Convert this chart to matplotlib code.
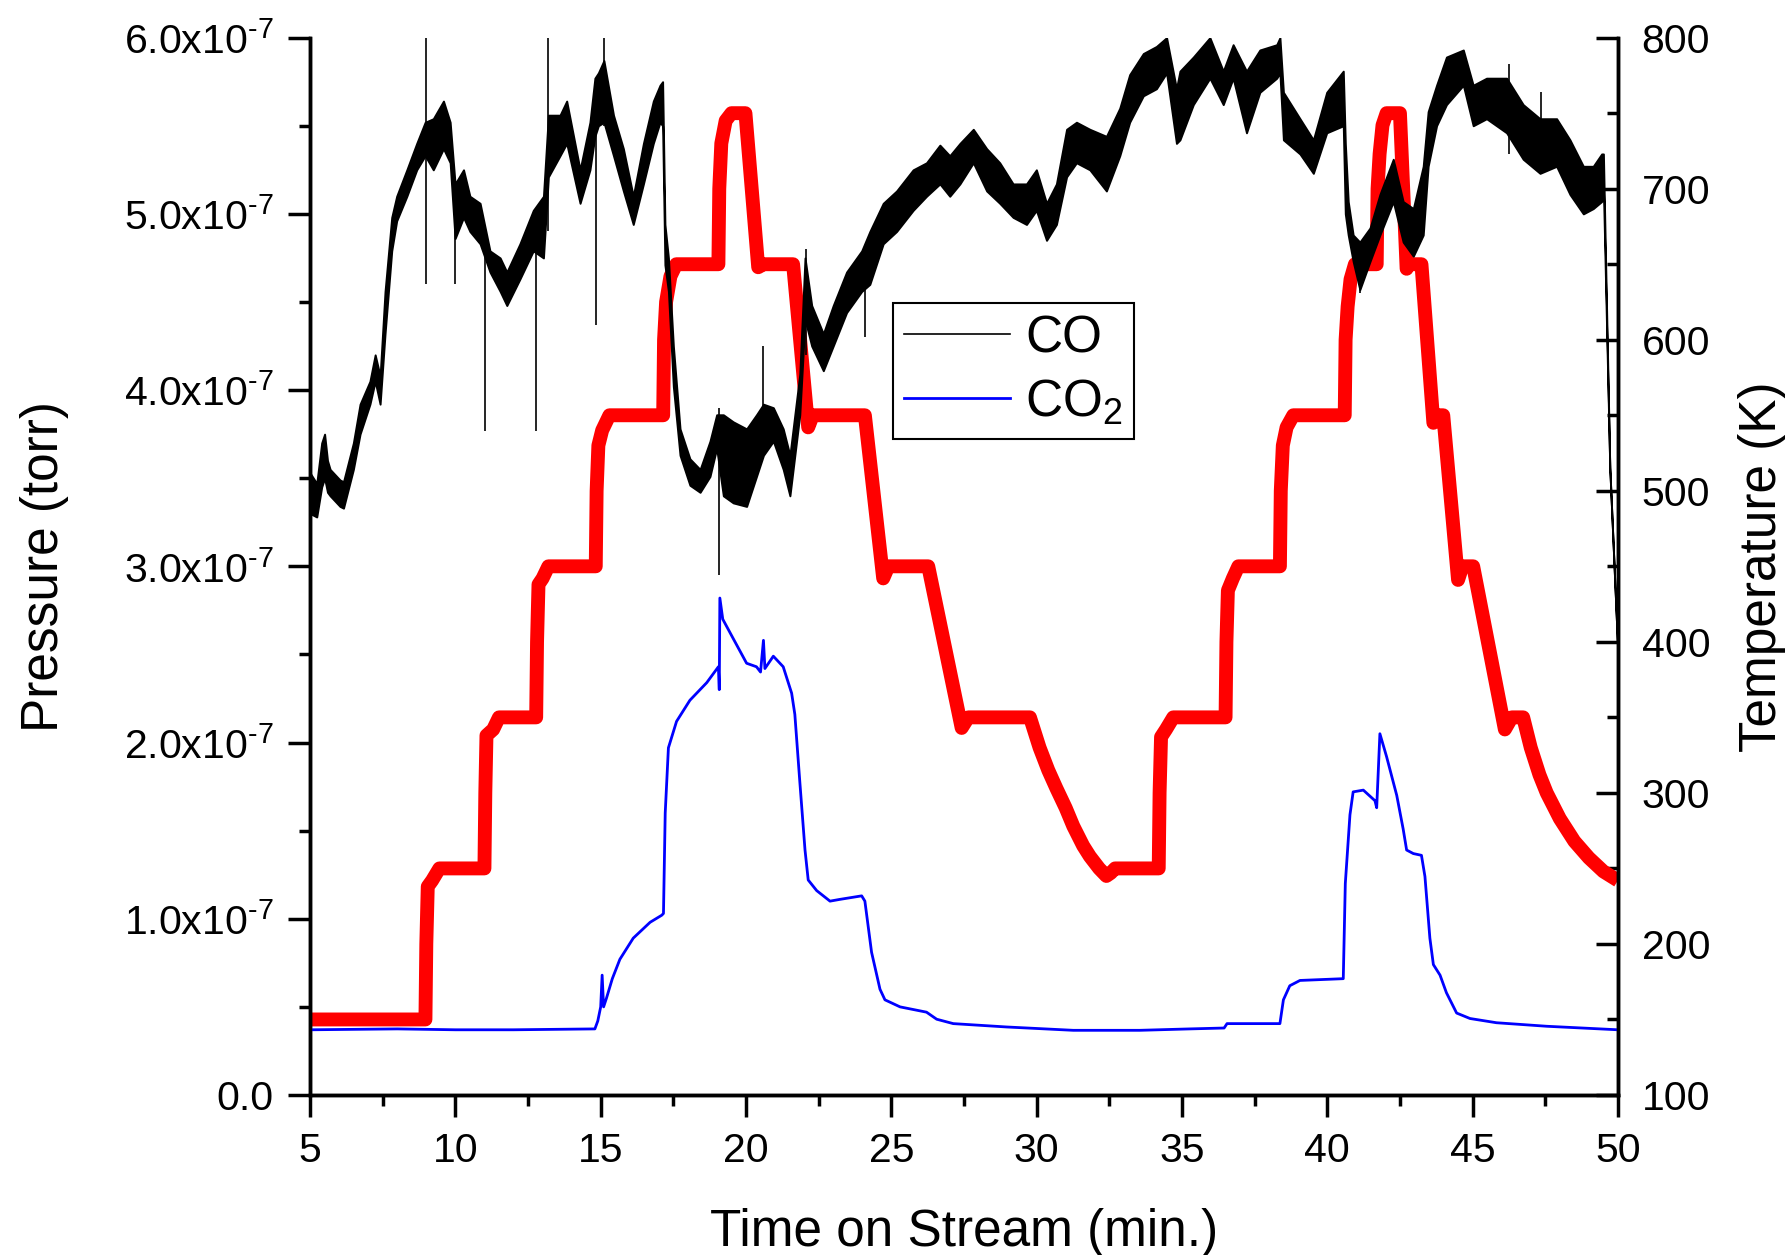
import numpy as np
import matplotlib
matplotlib.use('Agg')
import matplotlib.pyplot as plt
from matplotlib.ticker import MultipleLocator

plt.rcParams['font.family'] = ['Liberation Sans', 'DejaVu Sans']
plt.rcParams['mathtext.fontset'] = 'custom'
plt.rcParams['mathtext.rm'] = 'Liberation Sans'
plt.rcParams['mathtext.it'] = 'Liberation Sans:italic'

# --- データ（圧力は 1e-7 torr 単位で読み取り）---
# CO: ノイズ帯の下限/上限
t_co = [5.0, 5.23, 5.4, 5.5, 5.6, 5.69, 6.03, 6.15, 6.49, 6.72, 7.06, 7.24, 7.41, 7.58, 7.81,
        7.98, 8.33, 8.67, 8.96, 9.24, 9.59, 9.82, 9.99, 10.28, 10.5, 10.85, 11.19, 11.54, 11.77,
        12.22, 12.68, 13.03, 13.2, 13.6, 13.83, 14.29, 14.63, 14.8, 14.92, 15.11, 15.44, 15.78,
        16.12, 16.47, 16.81, 17.04, 17.13, 17.21, 17.33, 17.5, 17.73, 18.07, 18.42, 18.76, 18.99,
        19.22, 19.56, 20.02, 20.36, 20.6, 20.94, 21.28, 21.51, 21.68, 21.85, 22.03, 22.26, 22.66,
        23.0, 23.46, 23.98, 24.26, 24.72, 25.18, 25.75, 26.21, 26.67, 27.01, 27.36, 27.82, 28.28,
        28.73, 29.19, 29.65, 29.99, 30.34, 30.68, 31.03, 31.37, 31.83, 32.4, 32.86, 33.2, 33.67,
        34.12, 34.47, 34.81, 34.93, 35.39, 35.96, 36.42, 36.76, 37.22, 37.68, 38.26, 38.37, 38.49,
        39.06, 39.52, 39.98, 40.55, 40.62, 40.72, 40.89, 41.12, 41.47, 41.81, 42.27, 42.61, 42.96,
        43.3, 43.47, 43.76, 44.1, 44.68, 45.02, 45.48, 46.17, 46.74, 47.32, 47.89, 48.35, 48.81,
        49.15, 49.44, 49.5, 49.72, 50.0]
co_lo = [3.30, 3.28, 3.45, 3.50, 3.42, 3.40, 3.34, 3.33, 3.55, 3.75, 3.92, 4.05, 3.92, 4.32, 4.79,
         4.96, 5.10, 5.25, 5.33, 5.25, 5.37, 5.29, 4.86, 4.98, 4.90, 4.83, 4.67, 4.56, 4.48,
         4.63, 4.79, 4.75, 5.21, 5.33, 5.40, 5.06, 5.25, 5.44, 5.50, 5.52, 5.33, 5.13,
         4.94, 5.17, 5.40, 5.52, 5.50, 4.71, 4.56, 4.02, 3.63, 3.46, 3.42, 3.51, 3.67,
         3.40, 3.36, 3.34, 3.51, 3.63, 3.71, 3.55, 3.40, 3.63, 3.86, 4.40, 4.25, 4.11,
         4.25, 4.44, 4.56, 4.60, 4.83, 4.90, 5.02, 5.10, 5.17, 5.10, 5.17, 5.29, 5.13,
         5.06, 4.98, 4.94, 5.02, 4.85, 4.94, 5.21, 5.29, 5.25, 5.13, 5.33, 5.52, 5.67,
         5.71, 5.80, 5.40, 5.42, 5.62, 5.77, 5.62, 5.77, 5.46, 5.69, 5.77, 5.80, 5.42,
         5.34, 5.23, 5.46, 5.50, 5.00, 4.88, 4.73, 4.57, 4.73, 4.88, 5.07, 4.84, 4.76,
         4.88, 5.27, 5.50, 5.62, 5.73, 5.50, 5.54, 5.46, 5.31, 5.23, 5.27, 5.11, 5.00,
         5.03, 5.07, 5.15, 3.56, 2.50]
co_hi = [3.53, 3.47, 3.70, 3.75, 3.60, 3.55, 3.49, 3.48, 3.70, 3.92, 4.05, 4.20, 4.08, 4.56, 4.98,
         5.10, 5.25, 5.40, 5.52, 5.54, 5.64, 5.52, 5.17, 5.25, 5.10, 5.06, 4.79, 4.75, 4.67,
         4.83, 5.02, 5.10, 5.56, 5.56, 5.64, 5.25, 5.52, 5.77, 5.80, 5.87, 5.56, 5.37,
         5.10, 5.40, 5.64, 5.73, 5.75, 4.94, 4.75, 4.25, 3.78, 3.61, 3.55, 3.71, 3.86,
         3.86, 3.82, 3.78, 3.86, 3.92, 3.90, 3.78, 3.63, 3.86, 4.09, 4.75, 4.48, 4.32,
         4.48, 4.67, 4.79, 4.90, 5.06, 5.13, 5.25, 5.29, 5.39, 5.33, 5.40, 5.48, 5.37,
         5.29, 5.17, 5.17, 5.25, 5.06, 5.17, 5.48, 5.52, 5.48, 5.44, 5.60, 5.79, 5.91,
         5.95, 6.00, 5.71, 5.81, 5.89, 6.00, 5.81, 5.96, 5.81, 5.93, 5.96, 6.00, 5.69,
         5.54, 5.42, 5.69, 5.81, 5.40, 5.07, 4.88, 4.84, 4.92, 5.11, 5.31, 5.07, 5.03,
         5.27, 5.58, 5.73, 5.89, 5.93, 5.73, 5.77, 5.77, 5.62, 5.54, 5.54, 5.42, 5.27,
         5.27, 5.34, 5.34, 3.56, 2.50]

# CO のスパイク（縦の細線）
spike_t = [9.0, 10.0, 11.02, 12.79, 13.2, 14.83, 15.12, 19.08, 20.6, 22.08, 24.09, 41.12, 46.25, 47.35]
spike_lo = [4.6, 4.6, 3.77, 3.77, 4.9, 4.37, 5.5, 2.95, 3.7, 4.2, 4.3, 4.55, 5.34, 5.3]
spike_hi = [6.0, 5.2, 4.9, 4.9, 6.0, 5.6, 6.0, 3.9, 4.25, 4.8, 4.7, 4.8, 5.85, 5.69]

# CO2
t_co2 = [5.0, 8.0, 10.0, 12.0, 14.8, 14.9, 15.0, 15.05, 15.1, 15.2, 15.4, 15.66, 16.12, 16.7, 17.1,
         17.16, 17.22, 17.33, 17.61, 18.07, 18.65, 19.05, 19.08, 19.1, 19.2, 19.56, 20.02, 20.36,
         20.5, 20.6, 20.65, 20.94, 21.28, 21.57, 21.68, 21.85, 22.03, 22.14, 22.43, 22.89, 23.23,
         23.98, 24.09, 24.32, 24.61, 24.78, 25.3, 26.21, 26.56, 27.13, 28.96, 31.26, 33.55, 35.27,
         36.45, 36.55, 38.37, 38.49, 38.71, 39.06, 40.55, 40.62, 40.78, 40.89, 41.24, 41.64, 41.7,
         41.81, 42.04, 42.39, 42.61, 42.73, 42.96, 43.24, 43.36, 43.53, 43.65, 43.88, 44.1, 44.45,
         44.91, 45.82, 47.55, 50.0]
co2 = [0.37, 0.375, 0.37, 0.37, 0.375, 0.42, 0.50, 0.68, 0.50, 0.55, 0.66, 0.77, 0.89, 0.98, 1.02,
       1.03, 1.60, 1.97, 2.12, 2.24, 2.34, 2.43, 2.30, 2.82, 2.70, 2.59, 2.45, 2.43,
       2.40, 2.58, 2.42, 2.49, 2.43, 2.28, 2.16, 1.78, 1.39, 1.22, 1.16, 1.10, 1.11,
       1.13, 1.10, 0.81, 0.60, 0.54, 0.50, 0.47, 0.43, 0.405, 0.386, 0.367, 0.367, 0.375,
       0.38, 0.405, 0.405, 0.54, 0.62, 0.65, 0.66, 1.20, 1.59, 1.72, 1.73, 1.67, 1.63,
       2.05, 1.92, 1.70, 1.51, 1.39, 1.37, 1.36, 1.24, 0.89, 0.74, 0.68, 0.58, 0.465,
       0.434, 0.41, 0.39, 0.37]

# 温度 (K)
t_temp = [5.0, 8.97, 9.0, 9.05, 9.2, 9.45, 11.0, 11.03, 11.07, 11.3, 11.5, 12.78, 12.81, 12.86,
          13.0, 13.2, 14.83, 14.86, 14.92, 15.05, 15.3, 17.15, 17.18, 17.25, 17.4, 17.6, 19.05,
          19.08, 19.15, 19.3, 19.5, 19.98, 20.42, 20.6, 21.62, 22.14, 22.3, 24.09, 24.72, 24.9,
          26.27, 27.42, 27.65, 29.77, 30.1, 30.4, 30.68, 31.0, 31.26, 31.6, 31.83, 32.15, 32.4,
          32.55, 32.7, 34.2, 34.23, 34.28, 34.45, 34.7, 36.5, 36.53, 36.58, 36.75, 36.94, 38.37,
          38.4, 38.47, 38.6, 38.83, 40.6, 40.63, 40.7, 40.8, 40.95, 41.7, 41.73, 41.8, 41.9,
          42.04, 42.5, 42.73, 42.8, 43.24, 43.65, 43.8, 43.99, 44.5, 44.65, 45.02, 46.11, 46.35,
          46.74, 47.0, 47.3, 47.55, 48.0, 48.5, 49.0, 49.5, 50.0]
temp = [150, 150, 200, 238, 242, 250, 250, 300, 338, 342, 350, 350, 400, 438,
        442, 450, 450, 500, 530, 540, 550, 550, 600, 625, 642, 650, 650,
        700, 730, 745, 750, 750, 648, 650, 650, 542, 550, 550, 442, 450,
        450, 343, 350, 350, 330, 315, 303, 290, 278, 265, 258, 250, 245,
        247, 250, 250, 300, 337, 342, 350, 350, 400, 434, 442, 450, 450,
        500, 530, 542, 550, 550, 600, 622, 640, 650, 650, 700, 723, 742,
        750, 750, 647, 650, 650, 545, 550, 550, 441, 450, 450, 342, 350,
        350, 330, 312, 300, 283, 268, 257, 248, 242]

xticks = [5, 10, 15, 20, 25, 30, 35, 40, 45, 50]
p_ticks = [0, 1, 2, 3, 4, 5, 6]
p_labels = ['0.0'] + [r'%d.0x10$^{\text{-}7}$' % v for v in p_ticks[1:]]

SC = 1e-7
fig = plt.figure(figsize=(17.85, 12.55), dpi=100)
ax = fig.add_axes([0.1737, 0.1275, 0.7327, 0.8425])
ax2 = ax.twinx()

# 温度は後ろ、CO/CO2 を前に
ax.set_zorder(ax2.get_zorder() + 1)
ax.patch.set_visible(False)

ax2.plot(t_temp, temp, color='#ff0000', lw=10, solid_joinstyle='round', solid_capstyle='butt')

t_co = np.array(t_co)
ax.fill_between(t_co, np.array(co_lo) * SC, np.array(co_hi) * SC, color='black', lw=1.4)
ax.vlines(spike_t, np.array(spike_lo) * SC, np.array(spike_hi) * SC, color='black', lw=1.2)
ax.plot([], [], color='black', lw=1.2, label='CO')
ax.plot(t_co2, np.array(co2) * SC, color='#0000ff', lw=2.0, label='CO$_2$')

ax.set_xlim(5, 50)
ax.set_ylim(0, 6e-7)
ax2.set_ylim(100, 800)

ax.set_xticks(xticks)
ax.xaxis.set_minor_locator(MultipleLocator(2.5))
ax.set_yticks(np.array(p_ticks) * SC)
ax.set_yticklabels(p_labels)
ax.yaxis.set_minor_locator(MultipleLocator(0.5e-7))
ax2.yaxis.set_major_locator(MultipleLocator(100))
ax2.yaxis.set_minor_locator(MultipleLocator(50))

for a in (ax, ax2):
    for s in a.spines.values():
        s.set_linewidth(2.5)
    a.spines['top'].set_visible(False)

ax.tick_params(axis='both', which='major', direction='out', length=16, width=2.5, labelsize=29.5)
ax.tick_params(axis='both', which='minor', direction='out', length=8, width=2.5)
ax.tick_params(axis='x', which='major', pad=11)
ax.tick_params(axis='y', which='major', pad=10)
ax2.tick_params(axis='y', which='major', direction='in', length=16, width=2.5, labelsize=29.5, pad=17)
ax2.tick_params(axis='y', which='minor', direction='in', length=8, width=2.5)

ax.set_xlabel('Time on Stream (min.)', fontsize=37, labelpad=27)
ax.set_ylabel('Pressure (torr)', fontsize=37, labelpad=40)
ax2.set_ylabel('Temperature (K)', fontsize=37, labelpad=20)

leg = ax.legend(loc='upper left', bbox_to_anchor=(0.4457, 0.7489), borderaxespad=0,
                fontsize=37, handlelength=2.05, handletextpad=0.3, labelspacing=0.28,
                borderpad=0.22, fancybox=False, framealpha=1, edgecolor='black')
leg.get_frame().set_linewidth(1.5)

fig.savefig('out.png', dpi=100)
